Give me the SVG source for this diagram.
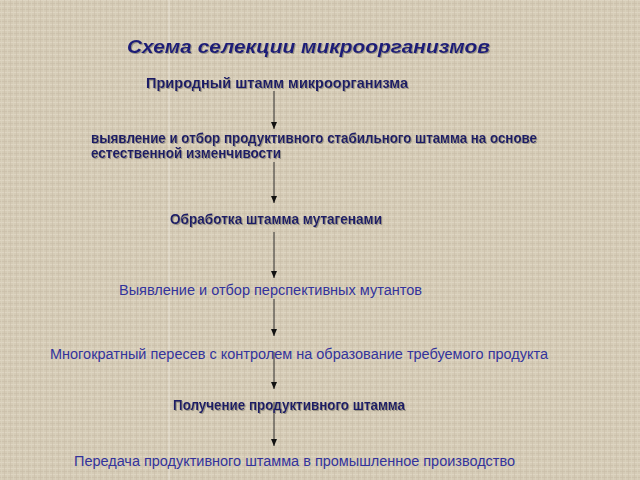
<svg xmlns="http://www.w3.org/2000/svg" width="640" height="480" viewBox="0 0 640 480">
<defs>
<pattern id="weave" width="6" height="6" patternUnits="userSpaceOnUse">
<rect width="6" height="6" fill="#d5cbb6"/>
<rect x="0" y="0" width="6" height="1" fill="#ded5c2"/>
<rect x="0" y="3" width="6" height="1" fill="#cdc2ad"/>
<rect x="1" y="0" width="1" height="6" fill="#dcd3c0" opacity="0.7"/>
<rect x="4" y="0" width="1" height="6" fill="#c9bea8" opacity="0.6"/>
</pattern>
<filter id="sh" x="-5%" y="-30%" width="110%" height="160%">
<feDropShadow dx="1" dy="1" stdDeviation="0.4" flood-color="#8a8578" flood-opacity="0.8"/>
</filter>
<marker id="ah" markerWidth="8" markerHeight="8" refX="7" refY="3.5" orient="auto" markerUnits="userSpaceOnUse">
<path d="M0,0.5 L7,3.5 L0,6.5 Z" fill="#111"/>
</marker>
<style>
text{font-family:"Liberation Sans",Arial,sans-serif}
.title{font-size:19px;font-weight:bold;font-style:italic;fill:#1c1c78;filter:url(#sh)}
.b{font-size:14px;font-weight:bold;fill:#1b1b66;filter:url(#sh)}
.n{font-size:14px;fill:#33339c}
.arr{stroke:#333;stroke-width:1;fill:none;marker-end:url(#ah)}
</style>
</defs>
<rect width="640" height="480" fill="url(#weave)"/>
<line x1="169" y1="0" x2="169" y2="480" stroke="#f2eee6" stroke-width="1" opacity="0.6"/>
<g id="connectors">
<line class="arr" x1="274" y1="91" x2="274" y2="129"/>
<line class="arr" x1="274" y1="162" x2="274" y2="203"/>
<line class="arr" x1="274" y1="232" x2="274" y2="278"/>
<line class="arr" x1="274" y1="299" x2="274" y2="336"/>
<line class="arr" x1="274" y1="352" x2="274" y2="389"/>
<line class="arr" x1="274" y1="402" x2="274" y2="446"/>
</g>
<g id="title"><text class="title" x="127" y="53" textLength="363" lengthAdjust="spacingAndGlyphs">Схема селекции микроорганизмов</text></g>
<g id="n1"><text class="b" x="146" y="88" textLength="262" lengthAdjust="spacingAndGlyphs">Природный штамм микроорганизма</text></g>
<g id="n2">
<text class="b" x="91" y="143" textLength="446" lengthAdjust="spacingAndGlyphs">выявление и отбор продуктивного стабильного штамма на основе</text>
<text class="b" x="91" y="158" textLength="190" lengthAdjust="spacingAndGlyphs">естественной изменчивости</text>
</g>
<g id="n3"><text class="b" x="170" y="224" textLength="212" lengthAdjust="spacingAndGlyphs">Обработка штамма мутагенами</text></g>
<g id="n4"><text class="n" x="119" y="295" textLength="303" lengthAdjust="spacingAndGlyphs">Выявление и отбор перспективных мутантов</text></g>
<g id="n5"><text class="n" x="50" y="359" textLength="498" lengthAdjust="spacingAndGlyphs">Многократный пересев с контролем на образование требуемого продукта</text></g>
<g id="n6"><text class="b" x="173" y="410" textLength="232" lengthAdjust="spacingAndGlyphs">Получение продуктивного штамма</text></g>
<g id="n7"><text class="n" x="74" y="466" textLength="441" lengthAdjust="spacingAndGlyphs">Передача продуктивного штамма в промышленное производство</text></g>
</svg>
